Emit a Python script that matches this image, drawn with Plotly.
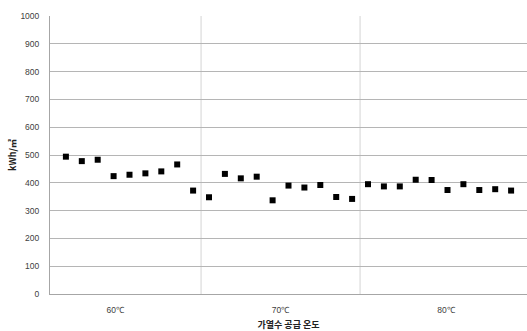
import plotly.graph_objects as go

# Annual heat demand per sample, grouped by supply water temperature
sample_no = list(range(1, 30))
heat_kwh_m2 = [
    494, 478, 483, 424, 429, 434, 441, 466, 372,          # 60℃
    348, 432, 416, 422, 337, 390, 383, 392, 349, 342,     # 70℃
    395, 387, 387, 411, 410, 374, 395, 374, 377, 372,     # 80℃
]
group_labels = ["60℃", "70℃", "80℃"]
group_centers = [4.1, 14.5, 24.9]
group_bounds = [9.5, 19.5]
y_ticks = list(range(0, 1001, 100))

fig = go.Figure()
fig.add_trace(go.Scatter(
    x=sample_no, y=heat_kwh_m2, mode="markers",
    marker=dict(symbol="square", size=6, color="#000000"),
    showlegend=False, hoverinfo="x+y",
))

for b in group_bounds:
    fig.add_shape(type="line", xref="x", yref="paper", x0=b, x1=b, y0=0, y1=1,
                  line=dict(color="#d4d4d4", width=1), layer="below")

tick_font = dict(family="Liberation Sans, Arial, sans-serif", size=8.5, color="#404040")
kr_font = dict(family="Noto Sans CJK KR, sans-serif", size=9, color="#222222")

fig.update_layout(
    width=527, height=331,
    margin=dict(l=50, r=0, t=16, b=37),
    paper_bgcolor="white", plot_bgcolor="white",
    xaxis=dict(
        range=[0, 30], showgrid=False, zeroline=False, automargin=False,
        tickmode="array", tickvals=group_centers, ticktext=group_labels,
        ticks="outside", ticklen=0, tickfont=tick_font, ticklabelstandoff=8,
        showline=True, linecolor="#a6a6a6", linewidth=1,
        title=dict(text="<b>가열수 공급 온도</b>", font=kr_font, standoff=13),
    ),
    yaxis=dict(
        range=[0, 1000], tickmode="array", tickvals=y_ticks, automargin=False,
        showgrid=True, gridcolor="#b5b5b5", gridwidth=1, zeroline=False,
        showline=True, linecolor="#a6a6a6", linewidth=1,
        ticks="outside", ticklen=0, tickfont=tick_font, ticklabelstandoff=8,
        title=dict(text="<b>kWh/㎡</b>", font=kr_font, standoff=2),
    ),
)

fig.write_html("out.html")
